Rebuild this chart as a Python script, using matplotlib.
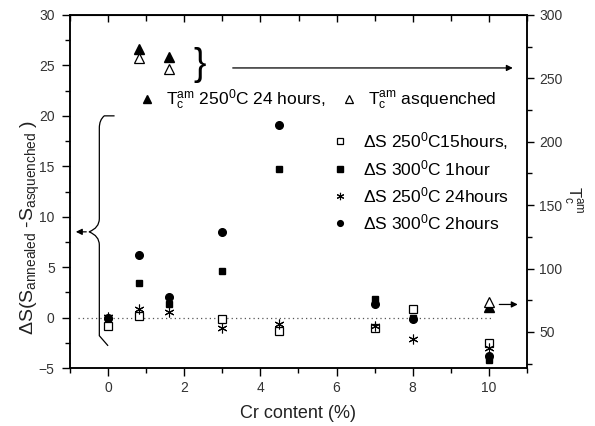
import numpy as np
import matplotlib
matplotlib.use("Agg")
import matplotlib.pyplot as plt
from matplotlib.path import Path
from matplotlib.patches import PathPatch

plt.rcParams['font.family'] = ['Liberation Sans', 'DejaVu Sans']
plt.rcParams['mathtext.fontset'] = 'custom'
plt.rcParams['mathtext.rm'] = 'Liberation Sans'
plt.rcParams['mathtext.it'] = 'Liberation Sans:italic'
plt.rcParams['mathtext.bf'] = 'Liberation Sans:bold'
plt.rcParams['mathtext.sf'] = 'Liberation Sans'

#Entropy change data (left axis)
cr_15h = [0, 0.8, 3, 4.5, 7, 8, 10]
ds_250_15h = [-0.8, 0.2, -0.15, -1.3, -1.05, 0.85, -2.5]

cr_all = [0, 0.8, 1.6, 3, 4.5, 7, 8, 10]
ds_300_1h = [0.0, 3.4, 1.3, 4.6, 14.75, 1.8, -0.05, -4.2]
ds_250_24h = [0.05, 0.85, 0.6, -1.05, -0.65, -0.85, -2.1, -3.05]
ds_300_2h = [0.0, 6.2, 2.05, 8.5, 19.1, 1.35, -0.15, -3.85]

#Curie temperature data (right axis)
cr_tc = [0.8, 1.6, 10]
tc_250_24h = [273, 266.5, 70]
tc_asquenched = [265.8, 257.2, 73.9]

fig = plt.figure(figsize=(5.95, 4.26), dpi=100)
ax = fig.add_axes([70/595, 58/426, 457/595, 353/426])
ax2 = ax.twinx()

tick_col = '#333333'

#Dotted zero line
ax.hlines(0, -0.8, 10.1, colors='#555555', linestyles=(0, (1, 2.5)), linewidth=0.9)

h1, = ax.plot(cr_15h, ds_250_15h, 's', ls='none', mfc='white', mec='black', ms=5.5, mew=0.9, zorder=3)
h4, = ax.plot(cr_all, ds_300_2h, 'o', ls='none', color='black', ms=5.5, zorder=4)
h2, = ax.plot(cr_all, ds_300_1h, 's', ls='none', color='black', ms=5, zorder=5)
h3, = ax.plot(cr_all, ds_250_24h, marker=(6, 2, 0), ls='none', color='black', ms=7, mew=0.8, zorder=3)

t1, = ax2.plot(cr_tc, tc_250_24h, '^', ls='none', color='black', ms=7)
t2, = ax2.plot(cr_tc, tc_asquenched, '^', ls='none', mfc='white', mec='black', ms=7, mew=0.9)

#Axis ranges and ticks
ax.set_xlim(-1, 11)
ax.set_ylim(-5, 30)
ax2.set_ylim(21.5, 300)
ax.set_xticks(np.arange(0, 11, 2))
ax.set_xticks(np.arange(-1, 12, 1), minor=True)
ax.set_yticks(np.arange(-5, 31, 5))
ax.set_yticks(np.arange(-5, 30.1, 2.5), minor=True)
ax2.set_yticks(np.arange(50, 301, 50))
ax2.set_yticks(np.arange(25, 301, 25), minor=True)

ax.tick_params(axis='both', which='major', direction='out', length=6, width=1, labelsize=10, labelcolor=tick_col, pad=3)
ax.tick_params(axis='both', which='minor', direction='out', length=3.5, width=1)
ax.tick_params(axis='y', pad=5)
ax2.tick_params(axis='y', which='major', direction='out', length=5, width=1, labelsize=10, labelcolor=tick_col, pad=4)
ax2.tick_params(axis='y', which='minor', direction='out', length=3.5, width=1)

top = ax.secondary_xaxis('top')
top.set_xticks(np.arange(0, 11, 2))
top.set_xticks(np.arange(-1, 12, 1), minor=True)
top.tick_params(axis='x', which='major', direction='in', length=5, width=1, labeltop=False)
top.tick_params(axis='x', which='minor', direction='in', length=4, width=1)

for a in (ax, ax2):
    for s in a.spines.values():
        s.set_linewidth(1.1)

#Axis labels
ax.set_xlabel('Cr content (%)', fontsize=13, color='#222222')
ax.xaxis.set_label_coords(0.5, -0.105)
fig.text(30/595, 1 - 227/426, r'$\Delta$S(S$_{\mathrm{annealed}}$ -S$_{\mathrm{asquenched}}$ )',
         rotation=90, ha='center', va='center', fontsize=14, color='#222222')
fig.text(572/595, 1 - 200/426, r'$\mathrm{T_c^{am}}$', rotation=270, ha='center', va='center',
         fontsize=12, color='#222222')

#Legends
leg1 = fig.legend([t1, t2], [r'$\mathrm{T_c^{am}}$ 250$^0$C 24 hours,', r'$\mathrm{T_c^{am}}$ asquenched'],
                  loc='center left', bbox_to_anchor=(138/595, 1 - 100/426), bbox_transform=fig.transFigure,
                  ncol=2, frameon=False, fontsize=12.5, handlelength=1.0, handletextpad=0.6,
                  columnspacing=0.85, borderpad=0, borderaxespad=0, markerscale=0.75)
leg2 = fig.legend([h1, h2, h3, h4],
                  [r'$\Delta$S 250$^0$C15hours,', r'$\Delta$S 300$^0$C 1hour',
                   r'$\Delta$S 250$^0$C 24hours', r'$\Delta$S 300$^0$C 2hours'],
                  loc='center left', bbox_to_anchor=(331/595, 1 - 181/426), bbox_transform=fig.transFigure,
                  frameon=False, fontsize=12.5, handlelength=1.0, handletextpad=0.85,
                  labelspacing=0.4, borderpad=0, borderaxespad=0, markerscale=0.75)

#Top brace and arrow pointing to the right axis
ax.text(2.41, 25.0, '}', fontsize=27, ha='center', va='center')
ax.annotate('', xy=(10.7, 24.75), xytext=(3.2, 24.75),
            arrowprops=dict(arrowstyle='-|>', color='black', lw=0.9, mutation_scale=9))
#Arrow at x=10 pointing to the right axis
ax.annotate('', xy=(10.83, 1.3), xytext=(10.2, 1.3),
            arrowprops=dict(arrowstyle='-|>', color='black', lw=0.9, mutation_scale=9))

#Left brace and arrow pointing to the left axis
brace_pts = [(0.17, 20.0), (-0.1, 20.0), (-0.23, 19.6), (-0.23, 18.8),
             (-0.23, 9.8), (-0.23, 8.9), (-0.5, 8.5),
             (-0.23, 8.1), (-0.23, 7.2),
             (-0.23, -1.8), (0.0, -2.8)]
codes = [Path.MOVETO, Path.LINETO, Path.CURVE3, Path.CURVE3,
         Path.LINETO, Path.CURVE3, Path.CURVE3,
         Path.CURVE3, Path.CURVE3,
         Path.LINETO, Path.LINETO]
ax.add_patch(PathPatch(Path(brace_pts, codes), fill=False, lw=0.9, color='black'))
ax.annotate('', xy=(-0.92, 8.5), xytext=(-0.5, 8.5),
            arrowprops=dict(arrowstyle='-|>', color='black', lw=0.9, mutation_scale=9))

fig.savefig('out.png', dpi=100)
